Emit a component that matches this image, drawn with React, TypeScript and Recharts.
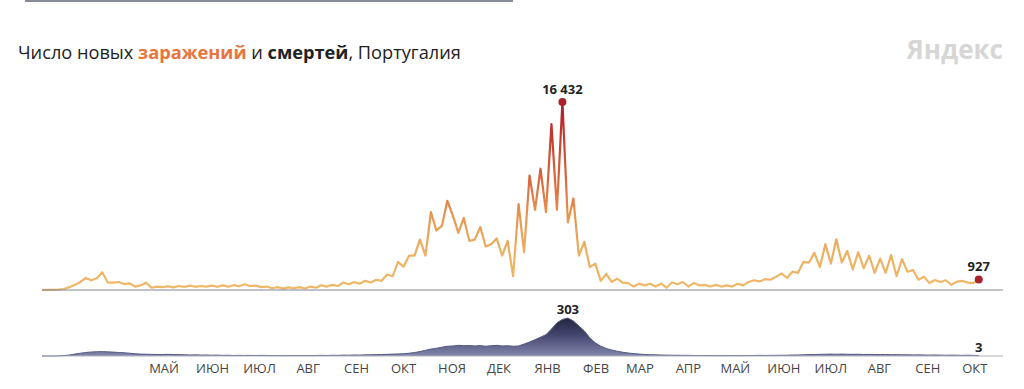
import React from "react";
import { LineChart, Line, AreaChart, Area, XAxis, YAxis } from "recharts";

const startDate = "2020-03-02";
const stepDays = 3.5;
const axisEndDays = 614;

const caseValues = [
  2, 5, 10, 40, 90, 250, 450, 700, 1050, 850,
  1020, 1550, 650, 650, 700, 520, 580, 300, 400, 640,
  200, 300, 250, 330, 230, 350, 260, 380, 280, 350,
  300, 380, 280, 400, 300, 420, 330, 500, 350, 380,
  250, 300, 150, 250, 120, 230, 150, 250, 130, 300,
  200, 420, 300, 450, 350, 650, 500, 700, 550, 800,
  650, 900, 800, 1350, 1200, 2450, 2040, 3000, 3000, 4400,
  3000, 6800, 5200, 5600, 7800, 6500, 5000, 6300, 4300, 4400,
  5500, 3800, 4000, 4500, 3000, 4300, 1200, 7500, 3300, 10000,
  7000, 10600, 6800, 14500, 7000, 16432, 5900, 8000, 3000, 4200,
  2000, 2300, 800, 1400, 700, 1000, 650, 600, 300, 550,
  400, 550, 300, 550, 200, 650, 500, 700, 300, 620,
  400, 450, 300, 450, 300, 400, 300, 550, 400, 700,
  850, 750, 950, 900, 1150, 1450, 1050, 1600, 1500, 2450,
  2400, 3250, 2000, 4000, 2300, 4430, 2400, 3400, 1800, 3300,
  1900, 3000, 1500, 2750, 1500, 3050, 1200, 2700, 1600, 1750,
  900, 1150, 600, 870, 700, 850, 450, 730, 800, 650,
  600, 927,
];

const deathValues = [
  0, 0, 0, 1, 3, 8, 15, 22, 28, 32,
  34, 35, 33, 31, 28, 26, 22, 18, 15, 14,
  13, 12, 12, 13, 12, 11, 10, 8, 9, 7,
  8, 6, 7, 5, 6, 4, 5, 4, 5, 4,
  5, 4, 3, 4, 3, 3, 4, 3, 4, 3,
  4, 5, 4, 6, 5, 7, 6, 8, 7, 9,
  10, 11, 12, 13, 15, 16, 18, 22, 28, 35,
  45, 55, 62, 70, 78, 80, 85, 82, 84, 80,
  83, 78, 82, 85, 80, 82, 78, 80, 95, 112,
  130, 150, 170, 215, 265, 292, 303, 280, 240, 200,
  145, 105, 78, 60, 48, 38, 30, 24, 19, 15,
  12, 10, 9, 8, 7, 6, 6, 5, 5, 4,
  4, 3, 4, 3, 3, 3, 4, 3, 3, 4,
  4, 5, 4, 5, 5, 6, 6, 8, 8, 10,
  11, 12, 13, 14, 15, 14, 15, 14, 13, 14,
  12, 13, 12, 11, 12, 10, 11, 9, 10, 8,
  9, 8, 7, 8, 7, 6, 7, 6, 5, 6,
  5, 3,
];

const monthLabels = [
  "МАЙ", "ИЮН", "ИЮЛ", "АВГ", "СЕН", "ОКТ", "НОЯ", "ДЕК", "ЯНВ",
  "ФЕВ", "МАР", "АПР", "МАЙ", "ИЮН", "ИЮЛ", "АВГ", "СЕН", "ОКТ",
];
const monthTickDates = [
  "2020-05-19", "2020-06-19", "2020-07-19", "2020-08-19", "2020-09-19",
  "2020-10-19", "2020-11-19", "2020-12-19", "2021-01-19", "2021-02-19",
  "2021-03-19", "2021-04-19", "2021-05-19", "2021-06-19", "2021-07-19",
  "2021-08-19", "2021-09-19", "2021-10-19",
];

const titleParts = ["Число новых ", "заражений", " и ", "смертей", ", Португалия"];
const brand = "Яндекс";

const DAY_MS = 86400000;
const startMs = Date.parse(startDate);
const rows = caseValues.map((c, i) => ({ day: i * stepDays, cases: c, deaths: deathValues[i] }));
const monthTicks = monthTickDates.map((d) => (Date.parse(d) - startMs) / DAY_MS);

const peakCases = Math.max(...caseValues);
const peakCasesIdx = caseValues.indexOf(peakCases);
const peakDeaths = Math.max(...deathValues);
const peakDeathsIdx = deathValues.indexOf(peakDeaths);
const lastIdx = caseValues.length - 1;

const FONT = "'Open Sans', 'Noto Sans', sans-serif";
const fmt = (v: number) => String(v).replace(/\B(?=(\d{3})+(?!\d))/g, " ");

const caseDot = (p: any) => {
  const { cx, cy, index } = p;
  if (index === peakCasesIdx || index === lastIdx) {
    return <circle key={`cd${index}`} cx={cx} cy={cy} r={4} fill="#a8232b" />;
  }
  return <g key={`cd${index}`} />;
};

const caseLabel = (p: any) => {
  const { x, y, index, value } = p;
  if (index !== peakCasesIdx && index !== lastIdx) return <g key={`cl${index}`} />;
  return (
    <text key={`cl${index}`} x={x} y={y - 8} textAnchor="middle" fontSize={13} fontWeight={700} fill="#222" fontFamily={FONT}>
      {fmt(value)}
    </text>
  );
};

const deathLabel = (p: any) => {
  const { x, y, index, value } = p;
  if (index !== peakDeathsIdx && index !== lastIdx) return <g key={`dl${index}`} />;
  return (
    <text key={`dl${index}`} x={x} y={y - 4} textAnchor="middle" fontSize={13} fontWeight={700} fill="#222" fontFamily={FONT}>
      {fmt(value)}
    </text>
  );
};

export default function App() {
  return (
    <div style={{ position: "absolute", left: 0, top: 0, width: 1024, height: 389, background: "#fff", overflow: "hidden", fontFamily: FONT }}>
      <div style={{ position: "absolute", left: 25, top: 0, width: 488, height: 2, background: "#878c96" }} />
      <div style={{ position: "absolute", left: 18, top: 40, fontSize: 18.2, lineHeight: "24px", color: "#222", whiteSpace: "nowrap" }}>
        {titleParts[0]}
        <span style={{ color: "#e8743b", fontWeight: 700 }}>{titleParts[1]}</span>
        {titleParts[2]}
        <span style={{ fontWeight: 700 }}>{titleParts[3]}</span>
        {titleParts[4]}
      </div>
      <div style={{ position: "absolute", right: 21, top: 31, fontSize: 26, letterSpacing: 0, fontWeight: 700, color: "#d6d6d6", whiteSpace: "nowrap" }}>
        {brand}
      </div>
      <div style={{ position: "absolute", left: 0, top: 0 }}>
        <LineChart width={1024} height={300} data={rows} margin={{ top: 102, right: 21, bottom: 9, left: 42 }}>
          <defs>
            <linearGradient id="casesGrad" x1="0" y1="0" x2="0" y2="1">
              <stop offset="0%" stopColor="#a61e2a" />
              <stop offset="15%" stopColor="#c0362e" />
              <stop offset="40%" stopColor="#d9643c" />
              <stop offset="60%" stopColor="#e79550" />
              <stop offset="80%" stopColor="#edb062" />
              <stop offset="100%" stopColor="#efb868" />
            </linearGradient>
          </defs>
          <XAxis type="number" dataKey="day" domain={[0, axisEndDays]} tick={false} tickLine={false} height={1} axisLine={{ stroke: "#80858f" }} />
          <YAxis hide domain={[0, peakCases]} />
          <Line
            type="linear"
            dataKey="cases"
            stroke="url(#casesGrad)"
            strokeWidth={2.2}
            strokeLinejoin="round"
            dot={caseDot}
            activeDot={false}
            label={caseLabel}
            isAnimationActive={false}
          />
        </LineChart>
      </div>
      <div style={{ position: "absolute", left: 0, top: 290 }}>
        <AreaChart width={1024} height={99} data={rows} margin={{ top: 28, right: 21, bottom: 0, left: 42 }}>
          <defs>
            <linearGradient id="deathGrad" x1="0" y1="0" x2="0" y2="1">
              <stop offset="0%" stopColor="#22243d" />
              <stop offset="45%" stopColor="#434770" />
              <stop offset="100%" stopColor="#8387ad" />
            </linearGradient>
          </defs>
          <XAxis
            type="number"
            dataKey="day"
            domain={[0, axisEndDays]}
            ticks={monthTicks}
            interval={0}
            tickFormatter={(v: number) => monthLabels[monthTicks.indexOf(v)] ?? ""}
            tickLine={false}
            tickSize={0}
            tickMargin={8}
            height={33}
            axisLine={{ stroke: "#b0b3bc" }}
            tick={{ fontSize: 13, fill: "#454545", fontFamily: FONT }}
          />
          <YAxis hide domain={[0, peakDeaths]} />
          <Area
            type="linear"
            dataKey="deaths"
            stroke="#555983"
            strokeWidth={1}
            fill="url(#deathGrad)"
            fillOpacity={1}
            activeDot={false}
            label={deathLabel}
            isAnimationActive={false}
          />
        </AreaChart>
      </div>
    </div>
  );
}
